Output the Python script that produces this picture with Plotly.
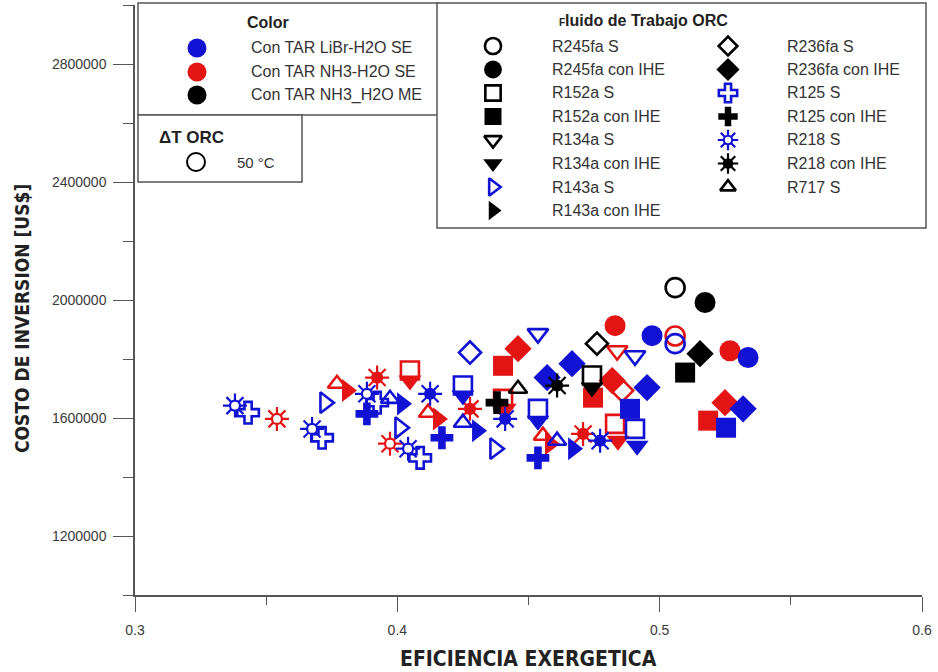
import plotly.graph_objects as go

# ---- Exergy efficiency vs. investment cost, ORC with ΔT = 50 °C ----

# Absorption chiller: LiBr-H2O single effect
libr_fluid = ["R245fa S", "R245fa con IHE", "R245fa con IHE",
              "R152a S", "R152a S", "R152a S", "R152a con IHE", "R152a con IHE",
              "R134a S", "R134a S", "R134a con IHE", "R134a con IHE", "R134a con IHE",
              "R143a S", "R143a S", "R143a S", "R143a con IHE", "R143a con IHE", "R143a con IHE",
              "R236fa S", "R236fa con IHE", "R236fa con IHE", "R236fa con IHE", "R236fa con IHE",
              "R125 S", "R125 S", "R125 S", "R125 S", "R125 con IHE", "R125 con IHE", "R125 con IHE",
              "R218 S", "R218 S", "R218 S", "R218 S", "R218 con IHE", "R218 con IHE", "R218 con IHE",
              "R717 S", "R717 S", "R717 S"]
libr_eff = [0.5059, 0.4971, 0.5337,
            0.4250, 0.4536, 0.4906, 0.4887, 0.5253,
            0.4536, 0.4906, 0.4250, 0.4536, 0.4914,
            0.3724, 0.4010, 0.4372, 0.4018, 0.4304, 0.4670,
            0.4277, 0.4571, 0.4666, 0.4952, 0.5318,
            0.3431, 0.3713, 0.3923, 0.4087, 0.3884, 0.4170, 0.4536,
            0.3381, 0.3675, 0.3884, 0.4041, 0.4125, 0.4411, 0.4773,
            0.3972, 0.4250, 0.4609]
libr_cost = [1852000, 1879000, 1805000,
             1710000, 1631000, 1563000, 1631000, 1567000,
             1886000, 1811000, 1676000, 1591000, 1506000,
             1652000, 1567000, 1496000, 1648000, 1557000, 1496000,
             1822000, 1737000, 1784000, 1703000, 1631000,
             1618000, 1533000, 1652000, 1465000, 1614000, 1533000, 1465000,
             1642000, 1563000, 1682000, 1496000, 1682000, 1597000, 1523000,
             1665000, 1584000, 1523000]

# Absorption chiller: NH3-H2O single effect
nh3se_fluid = ["R245fa S", "R245fa con IHE", "R245fa con IHE",
               "R152a S", "R152a S", "R152a S", "R152a con IHE", "R152a con IHE", "R152a con IHE",
               "R134a S", "R134a con IHE", "R134a con IHE", "R134a con IHE",
               "R143a con IHE", "R143a con IHE", "R143a con IHE",
               "R236fa S", "R236fa con IHE", "R236fa con IHE", "R236fa con IHE",
               "R218 S", "R218 S", "R218 con IHE", "R218 con IHE", "R218 con IHE",
               "R717 S", "R717 S", "R717 S"]
nh3se_eff = [0.5059, 0.4830, 0.5268,
             0.4048, 0.4403, 0.4830, 0.4403, 0.4746, 0.5185,
             0.4838, 0.4048, 0.4411, 0.4841,
             0.3808, 0.4155, 0.4582,
             0.4857, 0.4460, 0.4819, 0.5249,
             0.3541, 0.3972, 0.3923, 0.4277, 0.4708,
             0.3770, 0.4117, 0.4555]
nh3se_cost = [1878000, 1913000, 1828000,
              1761000, 1665000, 1580000, 1777000, 1669000, 1591000,
              1828000, 1727000, 1631000, 1523000,
              1693000, 1597000, 1513000,
              1693000, 1835000, 1727000, 1652000,
              1597000, 1513000, 1737000, 1631000, 1546000,
              1716000, 1618000, 1540000]

# Absorption chiller: NH3-H2O multi effect
nh3me_fluid = ["R245fa S", "R245fa con IHE", "R152a S", "R152a con IHE", "R134a con IHE",
               "R236fa S", "R236fa con IHE", "R125 con IHE", "R218 con IHE", "R717 S"]
nh3me_eff = [0.5059, 0.5173, 0.4742, 0.5097, 0.4742,
             0.4761, 0.5154, 0.4380, 0.4609, 0.4460]
nh3me_cost = [2042000, 1991500, 1744000, 1754000, 1703000,
              1852000, 1818000, 1652000, 1710000, 1699000]

# Legend labels
color_labels = ["Con TAR LiBr-H2O SE", "Con TAR NH3-H2O SE", "Con TAR NH3_H2O ME"]
fluid_col1 = ["R245fa S", "R245fa con IHE", "R152a S", "R152a con IHE",
              "R134a S", "R134a con IHE", "R143a S", "R143a con IHE"]
fluid_col2 = ["R236fa S", "R236fa con IHE", "R125 S", "R125 con IHE",
              "R218 S", "R218 con IHE", "R717 S"]

BLUE = "#1212d4"
RED = "#e41414"
BLACK = "#000000"

# symbol, size; "sun" is built from an asterisk with a small disc in the middle
STYLE = {
    "R245fa S": ("circle-open", 19),
    "R245fa con IHE": ("circle", 21),
    "R152a S": ("square-open", 18),
    "R152a con IHE": ("square", 20),
    "R134a S": ("triangle-down-open", 18),
    "R134a con IHE": ("triangle-down", 20),
    "R143a S": ("triangle-right-open", 18),
    "R143a con IHE": ("triangle-right", 20),
    "R236fa S": ("diamond-open", 17),
    "R236fa con IHE": ("diamond", 21),
    "R125 S": ("cross-open", 18),
    "R125 con IHE": ("cross", 19),
    "R218 S": ("sun-open", 20),
    "R218 con IHE": ("sun", 20),
    "R717 S": ("triangle-up-open", 16),
}

fig = go.Figure()


def marker_traces(xs, ys, name, color, xaxis="x", yaxis="y", scale=1.0):
    sym, size = STYLE[name]
    size = size * scale
    common = dict(x=xs, y=ys, mode="markers", xaxis=xaxis, yaxis=yaxis,
                  hoverinfo="skip", showlegend=False, cliponaxis=False)
    out = []
    if sym.startswith("sun"):
        out.append(go.Scatter(**common,
                              marker=dict(symbol="asterisk-open", size=size, color=color,
                                          line=dict(color=color, width=2.2))))
        fill = "white" if sym == "sun-open" else color
        out.append(go.Scatter(**common,
                              marker=dict(symbol="circle", size=size * 0.5, color=fill,
                                          line=dict(color=color, width=2.2))))
    elif sym.endswith("-open"):
        out.append(go.Scatter(**common,
                              marker=dict(symbol=sym, size=size, color=color,
                                          line=dict(color=color, width=2.6))))
    else:
        out.append(go.Scatter(**common,
                              marker=dict(symbol=sym, size=size, color=color,
                                          line=dict(width=0))))
    return out


def add_group(fluids, effs, costs, color):
    for name in STYLE:
        xs = [e for f, e in zip(fluids, effs) if f == name]
        ys = [c for f, c in zip(fluids, costs) if f == name]
        if xs:
            for t in marker_traces(xs, ys, name, color):
                fig.add_trace(t)


add_group(nh3se_fluid, nh3se_eff, nh3se_cost, RED)
add_group(libr_fluid, libr_eff, libr_cost, BLUE)
add_group(nh3me_fluid, nh3me_eff, nh3me_cost, BLACK)

# ---- legend panels, drawn on a pixel-scaled overlay axis ----
L, R, T, B = 135, 922, 5, 595
W, H = 938, 672


def px(x):
    return (x - L) / (R - L)


def py(y):
    return (B - y) / (B - T)


box_line = dict(color="#555555", width=1.5)
shapes = [
    dict(type="rect", xref="paper", yref="paper", x0=px(138), x1=px(438), y0=py(115), y1=py(3),
         line=box_line, fillcolor="white", layer="below"),
    dict(type="rect", xref="paper", yref="paper", x0=px(138), x1=px(302), y0=py(182), y1=py(115),
         line=box_line, fillcolor="white", layer="below"),
    dict(type="rect", xref="paper", yref="paper", x0=px(437), x1=px(926), y0=py(228), y1=py(3),
         line=box_line, fillcolor="white", layer="below"),
]

FONT = "Liberation Sans, Arial, sans-serif"
annotations = []


def label(x, y, text, size=16, bold=False, anchor="left"):
    t = f"<b>{text}</b>" if bold else text
    annotations.append(dict(xref="paper", yref="paper", x=px(x), y=py(y), text=t,
                            showarrow=False, xanchor=anchor, yanchor="middle",
                            font=dict(family=FONT, size=size,
                                      color="#222222" if bold else "#333333")))


# Color panel
label(268, 23, "Color", size=16, bold=True, anchor="center")
color_rows = [48, 72, 95]
fig.add_trace(go.Scatter(x=[197] * 3, y=color_rows, mode="markers", xaxis="x2", yaxis="y2",
                         marker=dict(symbol="circle", size=19, color=[BLUE, RED, BLACK]),
                         hoverinfo="skip", showlegend=False, cliponaxis=False))
for yy, lab in zip(color_rows, color_labels):
    label(249, yy, lab, size=16)

# ΔT ORC panel
label(191, 137, "ΔT ORC", size=17, bold=True, anchor="center")
fig.add_trace(go.Scatter(x=[196], y=[162], mode="markers", xaxis="x2", yaxis="y2",
                         marker=dict(symbol="circle-open", size=18, color=BLACK,
                                     line=dict(color=BLACK, width=2)),
                         hoverinfo="skip", showlegend=False, cliponaxis=False))
label(235, 162, "50 °C", size=15)

# Working-fluid panel
annotations.append(dict(xref="paper", yref="paper", x=px(643), y=py(20),
                        text="<b><span style='font-size:10px'>F</span>luido de Trabajo ORC</b>",
                        showarrow=False, xanchor="center", yanchor="middle",
                        font=dict(family=FONT, size=16, color="#222222")))
row_y = [46 + 23.5 * i for i in range(8)]
legend_blue = {"R143a S", "R125 S", "R218 S"}
for col_names, mx, tx in ((fluid_col1, 493, 550), (fluid_col2, 728, 785)):
    for name, yy in zip(col_names, row_y):
        c = BLUE if name in legend_blue else BLACK
        for t in marker_traces([mx], [yy], name, c, xaxis="x2", yaxis="y2", scale=0.85):
            fig.add_trace(t)
        label(tx, yy, name, size=16)

# Axis titles
TITLE_FONT = "Liberation Sans Narrow, DejaVu Sans Condensed, sans-serif"
annotations.append(dict(xref="paper", yref="paper", x=px(528), y=py(659),
                        text="<b>EFICIENCIA EXERGETICA</b>", showarrow=False,
                        xanchor="center", yanchor="middle",
                        font=dict(family=TITLE_FONT, size=21, color="#222222")))
annotations.append(dict(xref="paper", yref="paper", x=px(22), y=py(318),
                        text="<b>COSTO DE INVERSION [US$]</b>", showarrow=False, textangle=-90,
                        xanchor="center", yanchor="middle",
                        font=dict(family=TITLE_FONT, size=19, color="#222222")))

tick_font = dict(family=FONT, size=14, color="#3a3a3a")
axis_col = "#555555"

fig.update_layout(
    width=W, height=H,
    margin=dict(l=L, r=W - R, t=T, b=H - B),
    paper_bgcolor="white", plot_bgcolor="white",
    showlegend=False,
    shapes=shapes,
    annotations=annotations,
    xaxis=dict(range=[0.3, 0.6], tickvals=[0.3, 0.4, 0.5, 0.6], ticktext=["0.3", "0.4", "0.5", "0.6"],
               ticks="outside", ticklen=15, tickwidth=1.3, tickcolor=axis_col,
               minor=dict(tickvals=[0.35, 0.45, 0.55], ticks="outside", ticklen=8,
                          tickwidth=1.3, tickcolor=axis_col),
               showline=True, linecolor=axis_col, linewidth=1.5, showgrid=False, zeroline=False,
               tickfont=tick_font, ticklabelstandoff=6),
    yaxis=dict(range=[1000000, 3000000],
               tickvals=[1200000, 1600000, 2000000, 2400000, 2800000],
               ticktext=["1200000", "1600000", "2000000", "2400000", "2800000"],
               ticks="outside", ticklen=20, tickwidth=1.3, tickcolor=axis_col,
               minor=dict(tickvals=[1000000, 1400000, 1800000, 2200000, 2600000, 3000000],
                          ticks="outside", ticklen=10, tickwidth=1.3, tickcolor=axis_col),
               showline=True, linecolor=axis_col, linewidth=1.5, showgrid=False, zeroline=False,
               tickfont=tick_font, ticklabelstandoff=4),
    xaxis2=dict(range=[L, R], overlaying="x", visible=False, fixedrange=True),
    yaxis2=dict(range=[B, T], overlaying="y", visible=False, fixedrange=True),
)

fig.write_html("out.html")
